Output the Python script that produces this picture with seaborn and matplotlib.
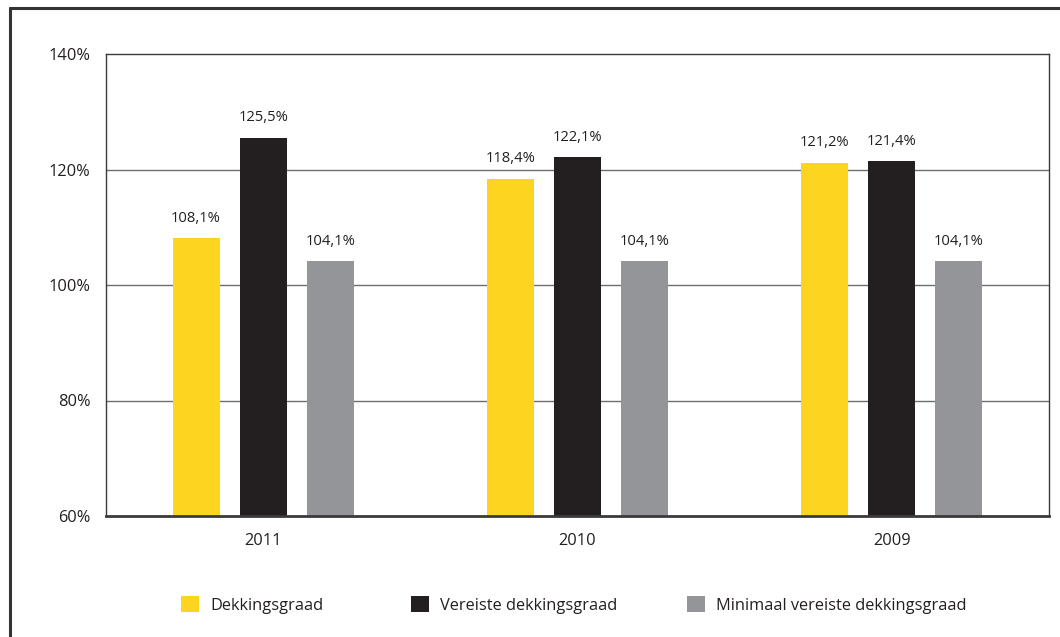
import matplotlib
matplotlib.use("Agg")
import matplotlib.pyplot as plt
import seaborn as sns
import pandas as pd
from matplotlib.lines import Line2D

years = ["2011", "2010", "2009"]
series = ["Dekkingsgraad", "Vereiste dekkingsgraad", "Minimaal vereiste dekkingsgraad"]
dekkingsgraad = [108.1, 118.4, 121.2]
vereiste = [125.5, 122.1, 121.4]
minimaal = [104.1, 104.1, 104.1]
yticks = [60, 80, 100, 120, 140]
colors = ["#FDD41F", "#231F20", "#939598"]

rows = []
for name, vals in zip(series, [dekkingsgraad, vereiste, minimaal]):
    for y, v in zip(years, vals):
        rows.append({"jaar": y, "reeks": name, "waarde": v})
df = pd.DataFrame(rows)

sns.set_theme(style="white")
plt.rcParams["font.family"] = ["Open Sans", "DejaVu Sans"]
txt = "#231F20"
fs = 11.8

fig = plt.figure(figsize=(10.6, 6.37), dpi=100)
ax = fig.add_axes([106/1060, 1-516/637, (1049-106)/1060, (516-54)/637])

sns.barplot(data=df, x="jaar", y="waarde", hue="reeks", order=years,
            hue_order=series, palette=colors, width=0.64, gap=0.3,
            saturation=1, ax=ax, linewidth=0, errorbar=None)

handles, labels = ax.get_legend_handles_labels()
if ax.get_legend():
    ax.get_legend().remove()

ax.set_ylim(60, 140)
ax.set_xlim(-0.5, 2.5)
ax.set_yticks(yticks)
ax.set_yticklabels([f"{t}%" for t in yticks], fontsize=fs, color=txt)
ax.set_xticklabels(years, fontsize=fs, color=txt)
ax.tick_params(axis="y", length=0, pad=11)
ax.tick_params(axis="x", length=0, pad=12)
ax.set_xlabel("")
ax.set_ylabel("")
for t in [80, 100, 120]:
    ax.axhline(t, color="#6d6e71", linewidth=1.0, zorder=0)
for s in ["top", "left", "right"]:
    ax.spines[s].set_color("#3a3a3a")
    ax.spines[s].set_linewidth(1.0)
ax.spines["bottom"].set_color("#3a3a3a")
ax.spines["bottom"].set_linewidth(2.0)

for cont in ax.containers:
    lbls = [f"{v:.1f}".replace(".", ",") + "%" for v in cont.datavalues]
    ax.bar_label(cont, labels=lbls, padding=9, fontsize=10.6, color=txt)

# outer frame (top and left)
fig.add_artist(Line2D([10/1060, 1.0], [1-8/637, 1-8/637], color="#333333", linewidth=2.2))
fig.add_artist(Line2D([10/1060, 10/1060], [0, 1-8/637], color="#333333", linewidth=2.2))

# legend entries
xs = [181, 411, 687]
for h, l, x in zip(handles, labels, xs):
    fig.legend([h], [l], loc="center left", bbox_to_anchor=(x/1060, 1-605/637),
               frameon=False, fontsize=fs, handlelength=1.1, handleheight=1.1,
               handletextpad=0.7, borderpad=0, borderaxespad=0,
               labelcolor=txt)

fig.savefig("out.png", dpi=100)
